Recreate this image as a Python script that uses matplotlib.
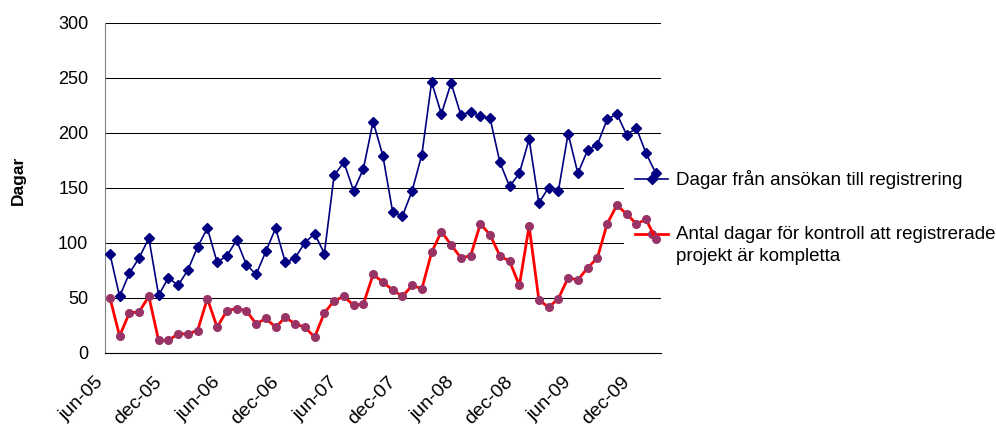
import matplotlib.pyplot as plt
from matplotlib.legend_handler import HandlerLine2D
from matplotlib.transforms import ScaledTranslation

plt.rcParams['font.family'] = ['Liberation Sans', 'DejaVu Sans']

# monthly values jun-05 .. feb-10
dagar_registrering = [90, 51, 72, 86, 104, 52, 68, 61, 75, 96,
                      113, 82, 88, 102, 80, 71, 92, 113, 82, 86,
                      100, 108, 90, 161, 173, 147, 167, 210, 179, 128,
                      124, 147, 180, 246, 217, 245, 216, 219, 215, 213,
                      173, 151, 163, 194, 136, 150, 147, 199, 163, 184,
                      189, 212, 217, 198, 204, 181, 163]
dagar_kontroll = [50, 15, 36, 37, 51, 11, 11, 17, 17, 20,
                  49, 23, 38, 40, 38, 26, 31, 23, 32, 26,
                  23, 14, 36, 47, 51, 43, 44, 71, 64, 57,
                  51, 61, 58, 91, 110, 98, 86, 88, 117, 107,
                  88, 83, 61, 115, 48, 41, 49, 68, 66, 77,
                  86, 117, 134, 126, 117, 121, 103]
tick_labels = ['jun-05', 'dec-05', 'jun-06', 'dec-06', 'jun-07',
               'dec-07', 'jun-08', 'dec-08', 'jun-09', 'dec-09']

label_reg = 'Dagar från ansökan till registrering'
label_kontroll = 'Antal dagar för kontroll att registrerade\nprojekt är kompletta'


class FirstLineHandler(HandlerLine2D):
    # put the legend key beside the first line of a two line label
    def create_artists(self, legend, orig_handle, xdescent, ydescent,
                       width, height, fontsize, trans):
        return super().create_artists(legend, orig_handle, xdescent,
                                      ydescent - 1.23 * fontsize,
                                      width, height, fontsize, trans)


x = range(len(dagar_registrering))

fig = plt.figure(figsize=(9.96, 4.24), dpi=100)
ax = fig.add_axes([0.1054, 0.1686, 0.558, 0.778])

ax.plot(x, dagar_registrering, color='#000080', lw=1.2, marker='D', ms=5,
        label=label_reg, zorder=3)
line_k, = ax.plot(x, dagar_kontroll, color='#ff0000', lw=2, marker='o', ms=5.5,
                  mfc='#993366', mec='#993366', label=label_kontroll, zorder=3)

ax.set_xlim(-0.5, len(dagar_registrering) - 0.5)
ax.set_ylim(0, 300)
ax.set_yticks(range(0, 301, 50))
ax.yaxis.grid(True, color='black', lw=0.75)
ax.set_axisbelow(True)

ax.set_xticks(range(0, len(dagar_registrering), 6))
ax.set_xticklabels(tick_labels, rotation=45, ha='right', va='center',
                   rotation_mode='anchor')
ax.tick_params(axis='x', length=0, labelsize=14, pad=19.5)
ax.tick_params(axis='y', length=0, labelsize=13, pad=12)
shift = ScaledTranslation(-0.09, 0, fig.dpi_scale_trans)
for lab in ax.get_xticklabels():
    lab.set_transform(lab.get_transform() + shift)

ax.spines['top'].set_visible(False)
ax.spines['right'].set_visible(False)
ax.spines['left'].set_color('#808080')
ax.spines['bottom'].set_color('black')

ax.set_ylabel('Dagar', fontweight='bold', fontsize=12.5)
ax.yaxis.set_label_coords(-0.142, 0.523)

leg = ax.legend(handler_map={line_k: FirstLineHandler()}, loc='upper left',
                bbox_to_anchor=(0.6265, 0.625), bbox_transform=fig.transFigure,
                frameon=True, fancybox=False, edgecolor='none', facecolor='white',
                framealpha=1, borderpad=0.6, handlelength=1.75, handletextpad=0.45,
                labelspacing=1.97, fontsize=13.5, borderaxespad=0)
leg.get_texts()[1].set_linespacing(1.38)
leg.set_zorder(2)

plt.savefig('out.png', dpi=100)
